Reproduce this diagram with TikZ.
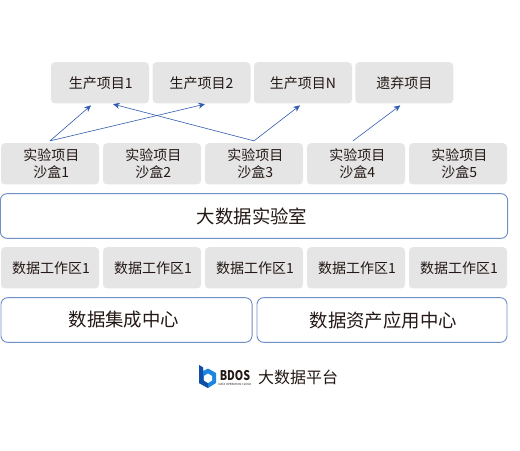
\documentclass[tikz,border=0pt]{standalone}
\usepackage{fontspec}
\setmainfont{Noto Sans CJK SC}
\usetikzlibrary{arrows.meta,calc}
\definecolor{boxgray}{HTML}{E5E5E5}
\definecolor{edgeblue}{HTML}{6F8FC6}
\definecolor{linkblue}{HTML}{2F5CAE}
\definecolor{inkdark}{HTML}{231815}
\definecolor{logoblue}{HTML}{1C86E0}
\definecolor{logodeep}{HTML}{0F4FA8}
\tikzset{item/.style={fill=boxgray,rounded corners=3pt,text=inkdark,align=center,inner sep=0pt,
    minimum width=73.5pt,minimum height=31pt,font=\fontsize{10.5}{12.75}\selectfont}}
\tikzset{frame/.style={draw=edgeblue,fill=white,line width=0.7pt,rounded corners=5pt,text=inkdark,inner sep=0pt,
    minimum height=33.5pt,font=\fontsize{13.8}{16}\selectfont}}
\tikzset{link/.style={-{Stealth[length=5pt,width=4.5pt]},draw=linkblue,line width=0.45pt}}

\begin{document}
\begin{tikzpicture}[x=0.75pt,y=-0.75pt]
    \useasboundingbox (0,0) rectangle (520,450);
    \node [item] (prod1) at (100,82.8) {\kern1pt 生产项目1};
    \node [item] (prod2) at (201.5,82.8) {生产项目2};
    \node [item] (prodN) at (303,82.8) {生产项目N};
    \node [item] (dropped) at (404.3,82.8) {遗弃项目};
    \node [item] (sand1) at (50,163.8) {\kern2pt 实验项目\\\kern2pt 沙盒1};
    \node [item] (sand2) at (152,163.8) {\kern2pt 实验项目\\\kern2pt 沙盒2};
    \node [item] (sand3) at (254,163.8) {\kern2pt 实验项目\\\kern2pt 沙盒3};
    \node [item] (sand4) at (356,163.8) {\kern2pt 实验项目\\\kern2pt 沙盒4};
    \node [item] (sand5) at (458,163.8) {\kern2pt 实验项目\\\kern2pt 沙盒5};
    \node [frame,minimum width=380.5pt] (lab) at (254,216) {大数据实验室\kern3pt};
    \node [item] (work1) at (50,267.8) {\kern1.5pt 数据工作区1};
    \node [item] (work2) at (152,267.8) {\kern1.5pt 数据工作区1};
    \node [item] (work3) at (254,267.8) {\kern1.5pt 数据工作区1};
    \node [item] (work4) at (356,267.8) {\kern1.5pt 数据工作区1};
    \node [item] (work5) at (458,267.8) {\kern1.5pt 数据工作区1};
    \node [frame,minimum width=188.3pt] (integ) at (126.5,320) {数据集成中心\kern4pt};
    \node [frame,minimum width=187.5pt] (asset) at (382,320) {\kern2pt 数据资产应用中心};
    \draw [link] ([yshift=1.5pt]sand1.north) -- ([xshift=-6.75pt,yshift=-1.2pt]prod1.south);
    \draw [link] ([yshift=1.5pt]sand1.north) -- ([xshift=2.6pt,yshift=-0.3pt]prod2.south);
    \draw [link] ([yshift=1.5pt]sand3.north) -- ([xshift=9.75pt,yshift=-0.3pt]prod1.south);
    \draw [link] ([yshift=1.5pt]sand3.north) -- ([xshift=-2.25pt,yshift=-1.2pt]prodN.south);
    \draw [link] ([xshift=-2.25pt,yshift=1.5pt]sand4.north) -- ([xshift=-3pt,yshift=-1.2pt]dropped.south);
    % logo
    \fill [logoblue] (199,365) -- (203,367.5) -- (203,371) -- (208,368.5) -- (216,373) -- (216,383) -- (208,388) -- (199,383) -- cycle;
    \fill [logodeep] (199,365) -- (203,367.5) -- (203,380) -- (208,383) -- (208,388) -- (199,383) -- cycle;
    \fill [white] (208,373.5) -- (212,376) -- (212,380.5) -- (208,383) -- (204,380.5) -- (204,376) -- cycle;
    \node [inner sep=0pt,xscale=0.8,transform shape,font=\bfseries\fontsize{10}{10}\selectfont,text=inkdark] (bdos) at (235,375.5) {BDOS};
    \node [inner sep=0pt,font=\fontsize{2.1}{3}\selectfont,text=inkdark] (bdossub) at (235,384.5) {DATA OPERATION CLOUD};
    \node [inner sep=0pt,font=\fontsize{12}{14}\selectfont,text=inkdark] (brand) at (298,377) {大数据平台};
\end{tikzpicture}
\end{document}
